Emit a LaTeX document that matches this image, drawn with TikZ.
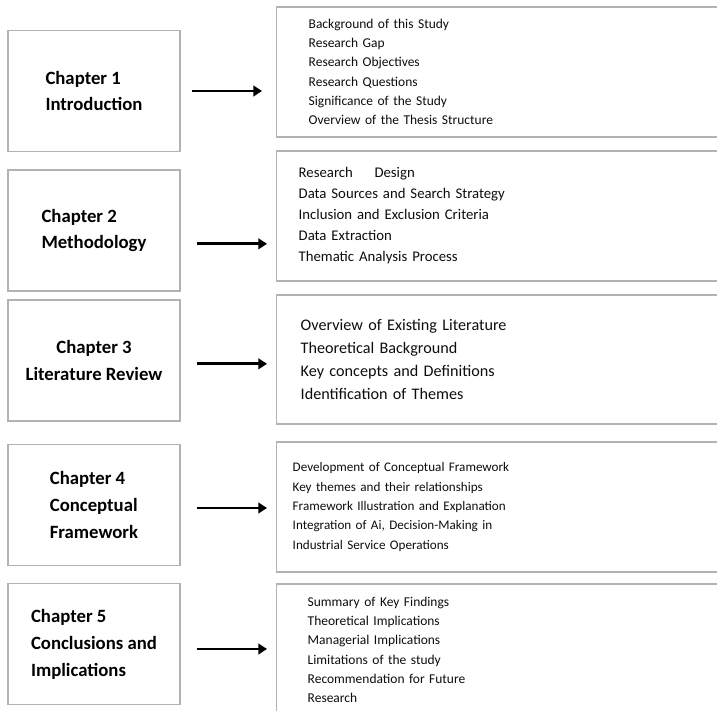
\documentclass[tikz,border=0pt]{standalone}
\usepackage{fontspec}
\setmainfont{Carlito}
\usetikzlibrary{arrows.meta}
\begin{document}
\begin{tikzpicture}[x=0.03cm,y=-0.03cm,
  chapbox/.style={draw=black!30,line width=1.2pt,minimum width=5.16cm,minimum height=3.64cm,align=left,text=black,font=\fontsize{16}{23}\selectfont\bfseries},
  listbox/.style={draw=black!30,line width=1.2pt,anchor=west,align=left,text width=13cm,text=black!95},
  flow/.style={line width=2.4pt,-{Triangle[length=2.6mm,width=3.2mm]},shorten <=4.8mm,shorten >=2.7mm}]
\useasboundingbox (0,0) rectangle (717,711);
\clip (0,0) rectangle (717,711);
% chapters
\node[chapbox] (ch1) at (94,91) {Chapter 1\\Introduction};
\node[chapbox] (ch2) at (94,230.5) {Chapter 2\\Methodology};
\node[chapbox,align=center] (ch3) at (94,360.5) {Chapter 3\\Literature Review};
\node[chapbox] (ch4) at (94,505) {Chapter 4\\Conceptual\\Framework};
\node[chapbox] (ch5) at (94,644) {Chapter 5\\Conclusions and\\Implications};
% contents
\node[listbox,inner xsep=0.96cm,minimum height=3.9cm,font=\fontsize{11.5}{16.5}\selectfont] (sec1) at (276,72)
  {Background of this Study\\Research Gap\\Research Objectives\\Research Questions\\Significance of the Study\\Overview of the Thesis Structure};
\node[listbox,inner xsep=0.66cm,minimum height=3.9cm,font=\fontsize{12.6}{17.9}\selectfont] (sec2) at (276,216)
  {Research\hspace{5mm} Design\\Data Sources and Search Strategy\\Inclusion and Exclusion Criteria\\Data Extraction\\Thematic Analysis Process};
\node[listbox,inner xsep=0.72cm,minimum height=3.87cm,font=\fontsize{13.8}{19.9}\selectfont] (sec3) at (276,359.5)
  {Overview of Existing Literature\\Theoretical Background\\Key concepts and Definitions\\Identification of Themes};
\node[listbox,inner xsep=0.48cm,minimum height=3.9cm,font=\fontsize{11.2}{16.5}\selectfont] (sec4) at (276,507)
  {Development of Conceptual Framework\\Key themes and their relationships\\Framework Illustration and Explanation\\Integration of Ai, Decision-Making in\\Industrial Service Operations};
\node[listbox,inner xsep=0.93cm,minimum height=3.96cm,font=\fontsize{11.5}{16.5}\selectfont] (sec5) at (276,650)
  {Summary of Key Findings\\Theoretical Implications\\Managerial Implications\\Limitations of the study\\Recommendation for Future\\Research};
% arrows
\coordinate (a1) at (ch1.east);
\coordinate (a2) at ([yshift=-4mm]ch2.east);
\coordinate (a3) at ([yshift=-1mm]ch3.east);
\coordinate (a4) at ([yshift=-0.9mm]ch4.east);
\coordinate (a5) at ([yshift=-1.5mm]ch5.east);
\draw[flow,shorten <=3.3mm,shorten >=4.2mm] (a1) -- (a1 -| sec1.west);
\draw[flow] (a2) -- (a2 -| sec2.west);
\draw[flow] (a3) -- (a3 -| sec3.west);
\draw[flow] (a4) -- (a4 -| sec4.west);
\draw[flow] (a5) -- (a5 -| sec5.west);
\end{tikzpicture}
\end{document}
